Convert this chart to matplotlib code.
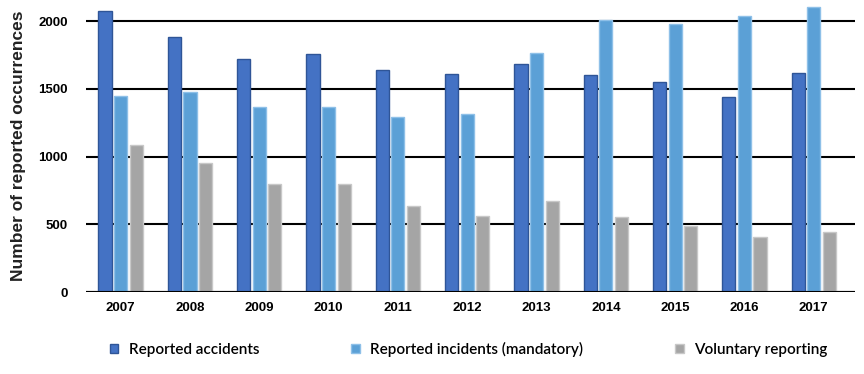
import matplotlib.pyplot as plt
import numpy as np

years = ["2007", "2008", "2009", "2010", "2011", "2012", "2013", "2014", "2015", "2016", "2017"]
accidents = [2074, 1880, 1722, 1759, 1636, 1611, 1685, 1599, 1552, 1441, 1614]
incidents = [1449, 1474, 1365, 1363, 1292, 1316, 1766, 2010, 1975, 2035, 2101]
voluntary = [1085, 952, 795, 795, 635, 563, 672, 551, 487, 406, 440]

fig = plt.figure(figsize=(8.64, 3.74), dpi=100)
ax = fig.add_axes([0.0995, 0.219, 0.8905, 0.781])

x = np.arange(len(years))
w = 0.19
step = 0.225
ax.bar(x - step, accidents, w, color="#4472C4", edgecolor="#2F5597", linewidth=1, label="Reported accidents", zorder=3)
ax.bar(x, incidents, w, color="#5BA0D6", edgecolor="#8EC0E8", linewidth=1, label="Reported incidents (mandatory)", zorder=3)
ax.bar(x + step, voluntary, w, color="#A5A5A5", edgecolor="#C8C8C8", linewidth=1, label="Voluntary reporting", zorder=3)

ax.set_xlim(-0.5, 10.6)
ax.set_ylim(0, 2155)
ax.set_yticks([0, 500, 1000, 1500, 2000])
ax.set_xticks(x)
ax.set_xticklabels(years)
ax.grid(axis="y", color="black", linewidth=1.5, zorder=1)
for s in ["top", "right", "left", "bottom"]:
    ax.spines[s].set_visible(False)
ax.axhline(0, color="black", linewidth=1.5, zorder=4)
ax.tick_params(length=0, labelsize=9.5)
ax.tick_params(axis="y", pad=13)
ax.tick_params(axis="x", pad=7)
for t in ax.get_xticklabels() + ax.get_yticklabels():
    t.set_fontweight("bold")
    t.set_fontfamily("Liberation Sans")
ax.set_ylabel("Number of reported occurrences", fontsize=12.5, fontweight="bold",
              fontfamily="Liberation Sans", color="#222222", labelpad=9)

fig.legend(loc="lower left", bbox_to_anchor=(0.12, 0.03, 0.845, 0.1), ncol=3, mode="expand",
           frameon=False, prop={"family": "Lato", "size": 11, "weight": "semibold"},
           handlelength=0.55, handleheight=0.55, handletextpad=0.7, borderaxespad=0)

plt.savefig("out.png", dpi=100)
